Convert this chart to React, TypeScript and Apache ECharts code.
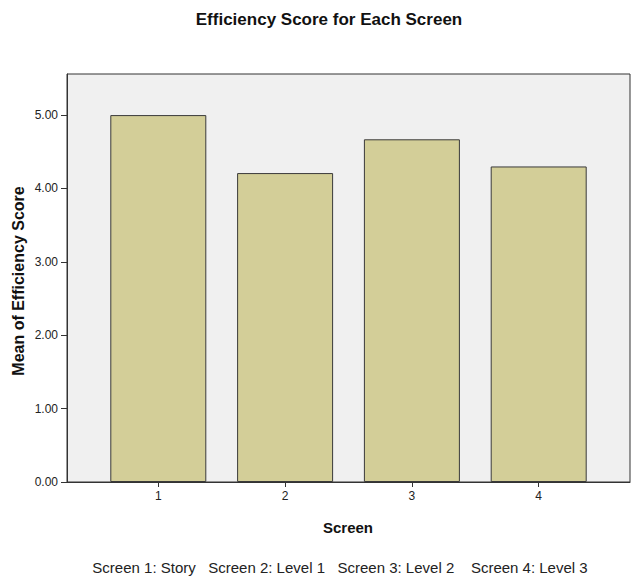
import React, { useEffect, useRef } from "react";
import * as echarts from "echarts";

const categories = ["1", "2", "3", "4"];
const categoryPositions = [1, 2, 3, 4];
const meanEfficiency = [5.0, 4.21, 4.67, 4.3];
const yTicks = [0, 1, 2, 3, 4, 5];
const caption = "Screen 1: Story   Screen 2: Level 1   Screen 3: Level 2    Screen 4: Level 3";

const FONT = "'Liberation Sans', Arial, sans-serif";

export default function App() {
  const ref = useRef<HTMLDivElement>(null);
  useEffect(() => {
    if (!ref.current) return;
    const chart = echarts.init(ref.current, undefined, { renderer: "svg" });
    chart.setOption({
      animation: false,
      backgroundColor: "#ffffff",
      textStyle: { fontFamily: FONT },
      grid: {
        left: 67,
        top: 74,
        width: 563,
        height: 408,
        show: true,
        backgroundColor: "#f0f0f0",
        borderColor: "#333333",
        borderWidth: 1,
      },
      xAxis: {
        type: "value",
        min: 0.28,
        max: 4.72,
        splitLine: { show: false },
        axisLine: { show: true, lineStyle: { color: "#333333", width: 1 } },
        axisTick: {
          show: true,
          length: 5,
          customValues: categoryPositions,
          lineStyle: { color: "#333333" },
        },
        axisLabel: {
          customValues: categoryPositions,
          formatter: (v: number) => categories[Math.round(v) - 1] ?? "",
          color: "#222222",
          fontSize: 12,
          margin: 8,
          fontFamily: FONT,
        },
      },
      yAxis: {
        type: "value",
        min: 0,
        max: 5.56,
        splitLine: { show: false },
        axisLine: { show: true, lineStyle: { color: "#333333", width: 1 } },
        axisTick: {
          show: true,
          length: 6,
          customValues: yTicks,
          lineStyle: { color: "#333333" },
        },
        axisLabel: {
          customValues: yTicks,
          formatter: (v: number) => v.toFixed(2),
          color: "#222222",
          fontSize: 12,
          margin: 9,
          fontFamily: FONT,
        },
      },
      series: [
        {
          type: "bar",
          barWidth: 96,
          data: categoryPositions.map((p, i) => [p, meanEfficiency[i]]),
          itemStyle: {
            color: "#d3ce98",
            borderColor: "#3a3a3a",
            borderWidth: 1,
          },
        },
      ],
      graphic: [
        {
          type: "text",
          x: 329,
          y: 19,
          style: {
            text: "Efficiency Score for Each Screen",
            font: `bold 17px ${FONT}`,
            fill: "#111111",
            align: "center",
            verticalAlign: "middle",
          },
        },
        {
          type: "text",
          x: 18,
          y: 281,
          rotation: Math.PI / 2,
          style: {
            text: "Mean of Efficiency Score",
            font: `bold 16px ${FONT}`,
            fill: "#111111",
            align: "center",
            verticalAlign: "middle",
          },
        },
        {
          type: "text",
          x: 348,
          y: 527,
          style: {
            text: "Screen",
            font: `bold 15px ${FONT}`,
            fill: "#111111",
            align: "center",
            verticalAlign: "middle",
          },
        },
        {
          type: "text",
          x: 340,
          y: 567,
          style: {
            text: caption,
            font: `15px ${FONT}`,
            fill: "#222222",
            align: "center",
            verticalAlign: "middle",
          },
        },
      ],
    });
    return () => chart.dispose();
  }, []);
  return (
    <div
      ref={ref}
      style={{ position: "fixed", left: 0, top: 0, width: 632, height: 577 }}
    />
  );
}
